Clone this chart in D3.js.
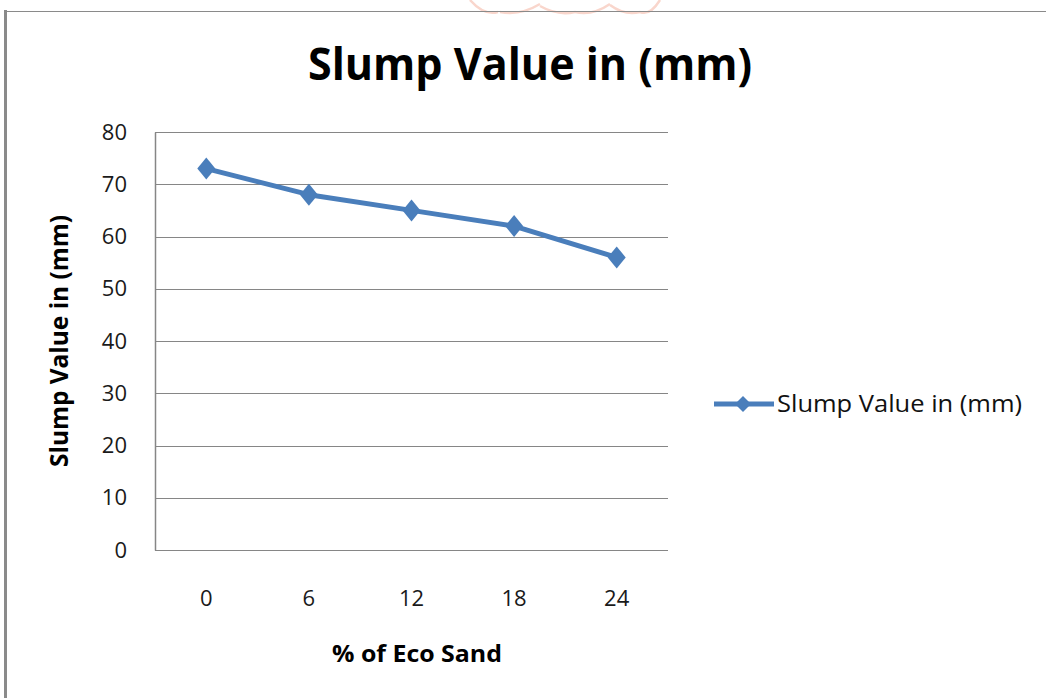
<!DOCTYPE html>
<html>
<head>
<meta charset="utf-8">
<script src="https://cdn.jsdelivr.net/npm/d3@7"></script>
<style>
  html, body { margin: 0; padding: 0; background: #fff; }
  svg { display: block; }
</style>
</head>
<body>
<svg id="chart" width="1047" height="698"></svg>
<script>
// Eco sand replacement levels (%) and measured slump (mm)
const categories = ["0", "6", "12", "18", "24"];
const slumpValues = [73, 68, 65, 62, 56];
const yTicks = [0, 10, 20, 30, 40, 50, 60, 70, 80];
const seriesName = "Slump Value in (mm)";
const chartTitle = "Slump Value in (mm)";
const xTitle = "% of Eco Sand";
const yTitle = "Slump Value in (mm)";

const svg = d3.select("#chart");
const W = 1047, H = 698;
const plot = { left: 155, right: 668, top: 132, bottom: 550 };
const blue = "#4a7ebb";
const grid = "#868686";
const font = "'Open Sans', 'Liberation Sans', sans-serif";

// diamond path with independent half-width / half-height
const diamondPath = (hw, hh) => `M0,${-hh}L${hw},0L0,${hh}L${-hw},0Z`;

svg.append("rect").attr("width", W).attr("height", H).attr("fill", "#fff");

// faint watermark arcs at the top edge
const wm = svg.append("g").attr("fill", "none").attr("stroke", "#f9d6cc").attr("stroke-width", 2.5);
[[470, 0, 498, 12], [500, 12, 540, 4], [540, 6, 575, 12], [575, 12, 610, 4], [610, 5, 640, 12], [640, 12, 660, 0]]
  .forEach(([x1, y1, x2, y2]) => {
    wm.append("path").attr("d", `M${x1},${y1} Q${(x1 + x2) / 2},${Math.max(y1, y2) + 4} ${x2},${y2}`);
  });

// outer frame (left and top edges)
svg.append("line").attr("x1", 5.5).attr("x2", 5.5).attr("y1", 10).attr("y2", H)
  .attr("stroke", "#8a8a8a").attr("stroke-width", 3);
svg.append("line").attr("x1", 5).attr("x2", 1046).attr("y1", 11.5).attr("y2", 11.5)
  .attr("stroke", "#8a8a8a").attr("stroke-width", 1.2);

const x = d3.scaleBand().domain(categories).range([plot.left, plot.right]).padding(0);
const y = d3.scaleLinear().domain([0, 80]).range([plot.bottom, plot.top]);

// horizontal gridlines
svg.append("g").selectAll("line").data(yTicks).join("line")
  .attr("x1", plot.left).attr("x2", plot.right)
  .attr("y1", d => Math.round(y(d)) + 0.5).attr("y2", d => Math.round(y(d)) + 0.5)
  .attr("stroke", grid).attr("stroke-width", 1.2);

// value axis
const yAxis = svg.append("g").attr("transform", `translate(${plot.left},0)`)
  .call(d3.axisLeft(y).tickValues(yTicks).tickSize(0).tickPadding(28));
yAxis.select(".domain").attr("stroke", grid).attr("stroke-width", 1.5);
yAxis.selectAll("text").attr("font-family", font).attr("font-size", 22).attr("fill", "#1a1a1a");

// category axis
const xAxis = svg.append("g").attr("transform", `translate(0,${plot.bottom})`)
  .call(d3.axisBottom(x).tickSize(0).tickPadding(40));
xAxis.select(".domain").remove();
xAxis.selectAll("text").attr("font-family", font).attr("font-size", 22).attr("fill", "#1a1a1a");

// series line
const pts = categories.map((c, i) => [x(c) + x.bandwidth() / 2, y(slumpValues[i])]);
svg.append("path").attr("d", d3.line()(pts))
  .attr("fill", "none").attr("stroke", blue).attr("stroke-width", 5).attr("stroke-linejoin", "round");

// diamond markers
svg.append("g").selectAll("path").data(pts).join("path")
  .attr("d", diamondPath(9, 11))
  .attr("transform", d => `translate(${d[0]},${d[1]})`)
  .attr("fill", blue);

// titles
svg.append("text").attr("x", 530).attr("y", 80).attr("text-anchor", "middle")
  .attr("font-family", font).attr("font-weight", "bold").attr("font-size", 45)
  .attr("textLength", 444).attr("lengthAdjust", "spacingAndGlyphs")
  .attr("fill", "#000").text(chartTitle);
svg.append("text").attr("x", 417).attr("y", 662).attr("text-anchor", "middle")
  .attr("font-family", font).attr("font-weight", "bold").attr("font-size", 24)
  .attr("textLength", 170).attr("lengthAdjust", "spacingAndGlyphs")
  .attr("fill", "#000").text(xTitle);
svg.append("text").attr("transform", `translate(68,341) rotate(-90)`)
  .attr("text-anchor", "middle")
  .attr("font-family", font).attr("font-weight", "bold").attr("font-size", 25)
  .attr("textLength", 252).attr("lengthAdjust", "spacingAndGlyphs")
  .attr("fill", "#000").text(yTitle);

// legend
const lg = svg.append("g").attr("transform", "translate(714,404)");
lg.append("line").attr("x1", 0).attr("x2", 60).attr("y1", 0).attr("y2", 0)
  .attr("stroke", blue).attr("stroke-width", 5);
lg.append("path").attr("d", diamondPath(8, 8)).attr("transform", "translate(29,0)").attr("fill", blue);
lg.append("text").attr("x", 777 - 714).attr("y", 8).attr("font-family", font).attr("font-size", 24)
  .attr("textLength", 245).attr("lengthAdjust", "spacingAndGlyphs")
  .attr("fill", "#111").text(seriesName);
</script>
</body>
</html>
